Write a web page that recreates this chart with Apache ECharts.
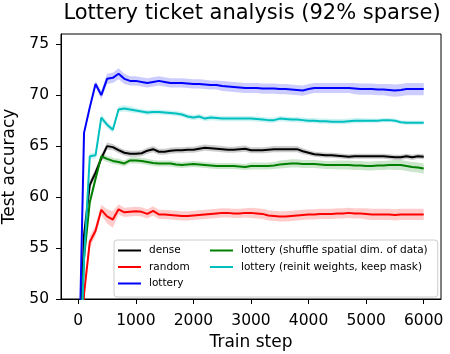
<!DOCTYPE html>
<html>
<head>
<meta charset="utf-8">
<script src="https://cdn.jsdelivr.net/npm/echarts@6.0.0/dist/echarts.min.js"></script>
<style>
  html, body { margin: 0; padding: 0; background: #fff; }
  #main { width: 450px; height: 354px; }
</style>
</head>
<body>
<div id="main"></div>
<script>
// train steps, every 100
const steps = [];
for (let s = 0; s <= 6000; s += 100) steps.push(s);

const xTicks = [0, 1000, 2000, 3000, 4000, 5000, 6000];
const yTicks = [50, 55, 60, 65, 70, 75];

const names = [
  'dense',
  'random',
  'lottery',
  'lottery (shuffle spatial dim. of data)',
  'lottery (reinit weights, keep mask)',
];

const denseMean = [
  40, 56.3, 61.2, 62.4, 63.8, 65.0, 64.9, 64.6, 64.35, 64.25,
  64.25, 64.3, 64.55, 64.7, 64.45, 64.45, 64.55, 64.6, 64.6, 64.65,
  64.65, 64.75, 64.85, 64.8, 64.75, 64.7, 64.65, 64.65, 64.7, 64.75,
  64.6, 64.6, 64.6, 64.65, 64.7, 64.7, 64.7, 64.7, 64.7, 64.5,
  64.35, 64.2, 64.15, 64.1, 64.1, 64.05, 64.0, 63.95, 64.0, 64.0,
  64.0, 64.0, 64.0, 64.0, 63.95, 63.9, 63.9, 64.0, 63.9, 64.0,
  63.95];
const denseStd = [
  0, 0.3, 0.4, 0.4, 0.35, 0.35, 0.3, 0.3, 0.3, 0.3,
  0.3, 0.3, 0.3, 0.3, 0.3, 0.3, 0.3, 0.3, 0.3, 0.3,
  0.3, 0.3, 0.3, 0.3, 0.3, 0.3, 0.3, 0.3, 0.3, 0.3,
  0.3, 0.3, 0.3, 0.3, 0.3, 0.3, 0.3, 0.3, 0.3, 0.3,
  0.25, 0.25, 0.25, 0.25, 0.25, 0.25, 0.25, 0.25, 0.25, 0.25,
  0.25, 0.25, 0.25, 0.25, 0.25, 0.25, 0.25, 0.25, 0.25, 0.25,
  0.25];

const randomMean = [
  35, 50.5, 55.6, 56.7, 58.75, 58.1, 57.8, 58.8, 58.5, 58.55,
  58.6, 58.55, 58.35, 58.65, 58.3, 58.3, 58.25, 58.2, 58.15, 58.15,
  58.2, 58.25, 58.3, 58.35, 58.4, 58.45, 58.45, 58.4, 58.4, 58.45,
  58.45, 58.4, 58.35, 58.2, 58.15, 58.1, 58.1, 58.15, 58.2, 58.25,
  58.3, 58.3, 58.35, 58.35, 58.35, 58.4, 58.4, 58.45, 58.4, 58.4,
  58.35, 58.3, 58.3, 58.3, 58.3, 58.25, 58.3, 58.3, 58.3, 58.3,
  58.3];
const randomStd = [
  0, 0.5, 0.6, 0.5, 0.5, 0.7, 0.8, 0.5, 0.45, 0.45,
  0.45, 0.45, 0.45, 0.45, 0.45, 0.45, 0.45, 0.45, 0.45, 0.45,
  0.45, 0.45, 0.45, 0.45, 0.45, 0.45, 0.45, 0.45, 0.45, 0.45,
  0.5, 0.5, 0.5, 0.5, 0.5, 0.5, 0.5, 0.5, 0.5, 0.5,
  0.5, 0.5, 0.5, 0.5, 0.5, 0.5, 0.5, 0.5, 0.5, 0.5,
  0.55, 0.55, 0.55, 0.55, 0.55, 0.55, 0.55, 0.55, 0.55, 0.55,
  0.55];

const lotteryMean = [
  40, 66.3, 68.8, 71.1, 70.0, 71.6, 71.7, 72.1, 71.6, 71.4,
  71.4, 71.3, 71.2, 71.3, 71.4, 71.3, 71.2, 71.2, 71.2, 71.15,
  71.1, 71.1, 71.05, 71.0, 71.0, 70.9, 70.85, 70.8, 70.75, 70.7,
  70.7, 70.7, 70.65, 70.65, 70.65, 70.6, 70.6, 70.55, 70.5, 70.45,
  70.6, 70.7, 70.7, 70.7, 70.7, 70.7, 70.7, 70.7, 70.65, 70.6,
  70.6, 70.6, 70.55, 70.55, 70.5, 70.45, 70.5, 70.6, 70.6, 70.6,
  70.6];
const lotteryStd = [
  0, 0.2, 0.3, 0.3, 0.4, 0.5, 0.5, 0.55, 0.5, 0.45,
  0.45, 0.45, 0.45, 0.45, 0.45, 0.45, 0.45, 0.45, 0.45, 0.45,
  0.45, 0.45, 0.45, 0.45, 0.45, 0.5, 0.5, 0.5, 0.5, 0.5,
  0.5, 0.5, 0.5, 0.5, 0.5, 0.5, 0.5, 0.5, 0.5, 0.5,
  0.5, 0.5, 0.5, 0.5, 0.5, 0.5, 0.5, 0.5, 0.55, 0.55,
  0.55, 0.55, 0.55, 0.55, 0.6, 0.6, 0.6, 0.6, 0.6, 0.6,
  0.6];

const shuffleMean = [
  40, 54.0, 59.5, 61.8, 64.0, 63.75, 63.55, 63.45, 63.3, 63.6,
  63.6, 63.55, 63.45, 63.35, 63.3, 63.3, 63.3, 63.2, 63.15, 63.2,
  63.25, 63.2, 63.15, 63.1, 63.05, 63.05, 63.05, 63.05, 63.0, 62.95,
  63.05, 63.05, 63.05, 63.05, 63.1, 63.2, 63.25, 63.3, 63.3, 63.25,
  63.25, 63.25, 63.2, 63.15, 63.15, 63.15, 63.15, 63.15, 63.1, 63.1,
  63.05, 63.05, 63.1, 63.1, 63.15, 63.15, 63.15, 63.05, 62.95, 62.9,
  62.8];
const shuffleStd = [
  0, 0.4, 0.5, 0.4, 0.3, 0.3, 0.3, 0.3, 0.3, 0.3,
  0.3, 0.3, 0.3, 0.3, 0.3, 0.3, 0.3, 0.3, 0.3, 0.3,
  0.3, 0.3, 0.3, 0.3, 0.3, 0.3, 0.3, 0.3, 0.3, 0.3,
  0.35, 0.35, 0.35, 0.35, 0.35, 0.4, 0.4, 0.4, 0.4, 0.4,
  0.4, 0.4, 0.4, 0.4, 0.4, 0.45, 0.45, 0.45, 0.45, 0.45,
  0.45, 0.45, 0.45, 0.45, 0.45, 0.5, 0.5, 0.5, 0.5, 0.5,
  0.5];

const reinitMean = [
  38, 53.8, 64.0, 64.1, 67.8, 67.1, 66.6, 68.6, 68.7, 68.6,
  68.5, 68.4, 68.3, 68.35, 68.35, 68.3, 68.25, 68.2, 68.1, 67.9,
  67.8, 67.9, 67.7, 67.8, 67.75, 67.7, 67.7, 67.7, 67.7, 67.7,
  67.7, 67.65, 67.6, 67.55, 67.55, 67.7, 67.65, 67.6, 67.6, 67.55,
  67.5, 67.5, 67.45, 67.45, 67.4, 67.4, 67.4, 67.45, 67.5, 67.5,
  67.5, 67.5, 67.5, 67.55, 67.55, 67.5, 67.35, 67.3, 67.3, 67.3,
  67.3];
const reinitStd = [
  0, 0.2, 0.3, 0.3, 0.35, 0.3, 0.3, 0.3, 0.3, 0.3,
  0.25, 0.25, 0.25, 0.25, 0.25, 0.25, 0.25, 0.25, 0.25, 0.25,
  0.25, 0.25, 0.25, 0.25, 0.25, 0.25, 0.25, 0.25, 0.25, 0.25,
  0.25, 0.25, 0.25, 0.25, 0.25, 0.25, 0.25, 0.25, 0.25, 0.25,
  0.25, 0.25, 0.25, 0.25, 0.25, 0.25, 0.25, 0.25, 0.25, 0.25,
  0.2, 0.2, 0.2, 0.2, 0.2, 0.2, 0.2, 0.2, 0.2, 0.2,
  0.2];

const runs = [
  { name: names[0], mean: denseMean, std: denseStd, color: '#000000', band: 'rgba(0,0,0,0.2)' },
  { name: names[1], mean: randomMean, std: randomStd, color: '#ff0000', band: 'rgba(255,0,0,0.2)' },
  { name: names[2], mean: lotteryMean, std: lotteryStd, color: '#0000ff', band: 'rgba(0,0,255,0.2)' },
  { name: names[3], mean: shuffleMean, std: shuffleStd, color: '#008000', band: 'rgba(0,128,0,0.2)' },
  { name: names[4], mean: reinitMean, std: reinitStd, color: '#00bfbf', band: 'rgba(0,191,191,0.2)' },
];

const font = 'DejaVu Sans';

// mean +- std band as one polygon, placed with the axes' own coord()
function bandSeries(r) {
  return {
    type: 'custom',
    silent: true,
    clip: true,
    z: 1,
    data: [[0, r.mean[0]]],
    renderItem(params, api) {
      const upper = steps.map((s, k) => api.coord([s, r.mean[k] + r.std[k]]));
      const lower = steps.map((s, k) => api.coord([s, r.mean[k] - r.std[k]])).reverse();
      const cs = params.coordSys;
      return {
        type: 'polygon',
        shape: { points: upper.concat(lower) },
        style: { fill: r.band, stroke: null },
        clipPath: { type: 'rect', shape: { x: cs.x, y: cs.y, width: cs.width, height: cs.height } },
      };
    },
  };
}

function buildSeries() {
  const series = runs.map(bandSeries);
  runs.forEach((r) => {
    series.push({
      name: r.name,
      type: 'line',
      symbol: 'none',
      z: 2,
      color: r.color,
      lineStyle: { color: r.color, width: 2 },
      data: steps.map((s, k) => [s, r.mean[k]]),
    });
  });
  return series;
}

const chart = echarts.init(document.getElementById('main'), null, { renderer: 'canvas' });

const legendText = { fontFamily: font, fontSize: 10.5, color: '#000', lineHeight: 13, padding: [0, 0, 0, 3] };

const option = {
  animation: false,
  backgroundColor: '#fff',
  title: {
    text: 'Lottery ticket analysis (92% sparse)',
    left: 247,
    top: -2,
    textAlign: 'center',
    textStyle: { fontFamily: font, fontSize: 21, fontWeight: 'normal', color: '#000' },
  },
  grid: {
    left: 61,
    right: 9,
    top: 34,
    bottom: 55,
    outerBoundsMode: 'none',
    show: true,
    borderColor: '#000',
    borderWidth: 1,
  },
  legend: [
    {
      data: names.slice(0, 3),
      orient: 'vertical',
      left: 114,
      top: 240,
      icon: 'rect',
      itemWidth: 23,
      itemHeight: 2,
      itemGap: 3.5,
      padding: [4, 248, 7, 4],
      backgroundColor: 'rgba(255,255,255,0.8)',
      borderColor: '#cccccc',
      borderWidth: 1,
      borderRadius: 3,
      z: 10,
      selectedMode: false,
      textStyle: legendText,
    },
    {
      data: names.slice(3),
      orient: 'vertical',
      left: 206,
      top: 240,
      icon: 'rect',
      itemWidth: 23,
      itemHeight: 2,
      itemGap: 3.5,
      padding: [4, 4, 7, 4],
      z: 11,
      selectedMode: false,
      textStyle: legendText,
    },
  ],
  xAxis: {
    type: 'value',
    min: -300,
    max: 6300,
    name: 'Train step',
    nameLocation: 'middle',
    nameGap: 35,
    nameTextStyle: { fontFamily: font, fontSize: 17, color: '#000' },
    axisLine: { show: true, onZero: false, lineStyle: { color: '#000', width: 1 } },
    axisTick: { show: true, length: 5, lineStyle: { color: '#000' }, customValues: xTicks },
    axisLabel: {
      fontFamily: font, fontSize: 15.5, color: '#000', margin: 14,
      customValues: xTicks,
      formatter: (v) => String(v),
    },
    splitLine: { show: false },
  },
  yAxis: {
    type: 'value',
    min: 50,
    max: 76,
    name: 'Test accuracy',
    nameLocation: 'middle',
    nameGap: 41,
    nameTextStyle: { fontFamily: font, fontSize: 17, color: '#000' },
    axisLine: { show: true, onZero: false, lineStyle: { color: '#000', width: 1 } },
    axisTick: { show: true, length: 5, lineStyle: { color: '#000' }, customValues: yTicks },
    axisLabel: {
      fontFamily: font, fontSize: 15.5, color: '#000', margin: 12,
      customValues: yTicks,
      formatter: (v) => String(v),
    },
    splitLine: { show: false },
  },
  series: buildSeries(),
};

chart.setOption(option);
</script>
</body>
</html>
